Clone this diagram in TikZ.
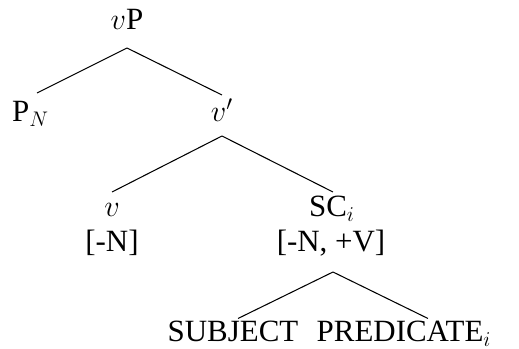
\documentclass[tikz,border=0pt]{standalone}
\usepackage{amsmath}
\usepackage{fontspec}
\setmainfont{Liberation Serif}
\usetikzlibrary{positioning, calc}

\tikzset{
  cat/.style={inner sep=0pt, anchor=base},
  branch/.style={line width=0.6pt}
}

\begin{document}
\begin{tikzpicture}[font=\fontsize{17.6}{21}\selectfont]
				\useasboundingbox (0,0) rectangle (10.38,6.98);
				
				% top level
				\node[cat] (vp) at (2.54, 6.38) {$v$P};
				\node[cat] (pn) at (0.61, 4.54) {P$_N$};
				\node[cat] (vbar) at (4.44, 4.54) {$v'$};
				
				\draw[branch] ([yshift=-0.36cm]vp.base) -- ([shift={(0.13,0.58)}]pn.base);
				\draw[branch] ([yshift=-0.36cm]vp.base) -- ([shift={(0,0.54)}]vbar.base);
				
				% v and small clause
				\node[cat] (v) at (2.24, 2.64) {$v$};
				\node[cat] (vfeat) at (2.24, 1.94) {[-N]};
				\node[cat] (sc) at (6.64, 2.64) {SC$_i$};
				\node[cat] (scfeat) at (6.62, 1.94) {[-N, +V]};
				
				\draw[branch] ([yshift=-0.28cm]vbar.base) -- ([shift={(0,0.50)}]v.base);
				\draw[branch] ([yshift=-0.28cm]vbar.base) -- ([shift={(0.02,0.50)}]sc.base);
				
				% inside the small clause
				\node[cat] (subj) at (4.66, 0.15) {SUBJECT};
				\node[cat] (pred) at (8.08, 0.15) {PREDICATE$_i$};
				
				\draw[branch] ([shift={(0.04,-0.40)}]scfeat.base) -- ([shift={(0.10,0.46)}]subj.base);
				\draw[branch] ([shift={(0.04,-0.40)}]scfeat.base) -- ([shift={(0.48,0.46)}]pred.base);
			\end{tikzpicture}
\end{document}
